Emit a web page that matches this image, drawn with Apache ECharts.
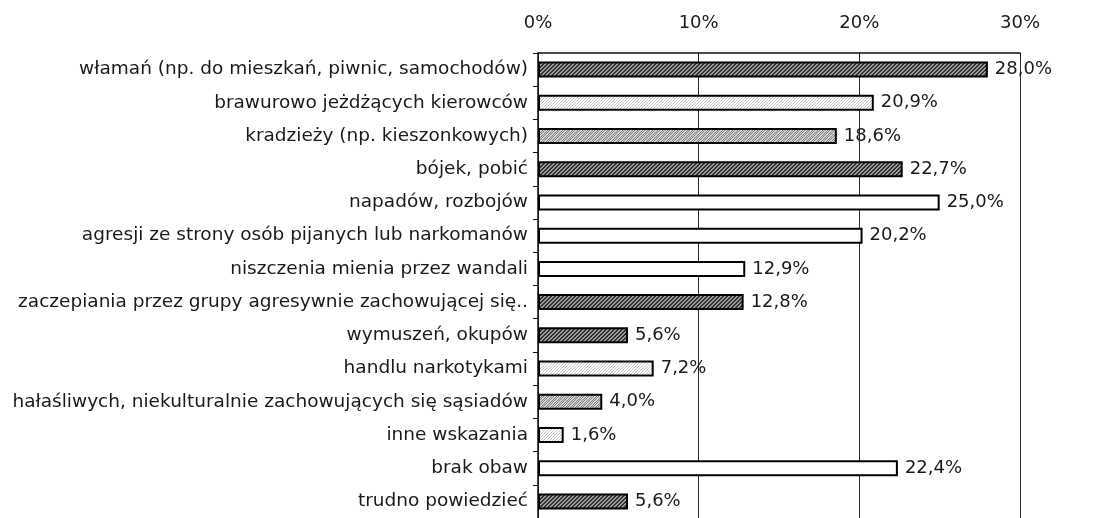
<!DOCTYPE html>
<html>
<head>
<meta charset="utf-8">
<script src="https://cdn.jsdelivr.net/npm/echarts@6/dist/echarts.min.js"></script>
<style>
  html, body { margin: 0; padding: 0; background: #fff; }
  #main { width: 1113px; height: 518px; }
</style>
</head>
<body>
<div id="main"></div>
<script>
var categories = [
    'włamań (np. do mieszkań, piwnic, samochodów)',
    'brawurowo jeżdżących kierowców',
    'kradzieży (np. kieszonkowych)',
    'bójek, pobić',
    'napadów, rozbojów',
    'agresji ze strony osób pijanych lub narkomanów',
    'niszczenia mienia przez wandali',
    'zaczepiania przez grupy agresywnie zachowującej się..',
    'wymuszeń, okupów',
    'handlu narkotykami',
    'hałaśliwych, niekulturalnie zachowujących się sąsiadów',
    'inne wskazania',
    'brak obaw',
    'trudno powiedzieć'
];
var values = [28.0, 20.9, 18.6, 22.7, 25.0, 20.2, 12.9, 12.8, 5.6, 7.2, 4.0, 1.6, 22.4, 5.6];
var tickValues = [0, 10, 20, 30];

// wypelnienie slupkow (styl, nie dane)
var barFill = ['dark', 'light', 'medium', 'dark', 'white', 'white', 'white',
    'dark', 'dark', 'light', 'medium', 'light', 'white', 'dark'];

function makePattern(bg, fg, step) {
    var c = document.createElement('canvas');
    c.width = step; c.height = step;
    var ctx = c.getContext('2d');
    ctx.fillStyle = bg;
    ctx.fillRect(0, 0, step, step);
    ctx.fillStyle = fg;
    for (var i = 0; i < step; i++) {
        ctx.fillRect(i, step - 1 - i, 1, 1);      // ukosna kreska
        ctx.fillRect((i + 2) % step, (step - 1 - i + 1) % step, 1, 1);
    }
    return {image: c, repeat: 'repeat'};
}

var fills = {
    dark: makePattern('#9c9c9c', '#303030', 4),
    medium: makePattern('#d4d4d4', '#808080', 5),
    light: makePattern('#ffffff', '#c4c4c4', 6),
    white: '#ffffff'
};

var barData = values.map(function (v, i) {
    return {value: v, itemStyle: {color: fills[barFill[i]]}};
});

var myChart = echarts.init(document.getElementById('main'));
var option = {
    animation: false,
    backgroundColor: '#fff',
    textStyle: {fontFamily: 'DejaVu Sans'},
    grid: {left: 538, top: 53, width: 482, height: 470},
    xAxis: {
        type: 'value',
        position: 'top',
        min: tickValues[0],
        max: tickValues[tickValues.length - 1],
        interval: 10,
        axisLine: {show: true, lineStyle: {color: '#111', width: 1.5}},
        axisTick: {show: true, inside: true, length: 4, lineStyle: {color: '#111'}},
        axisLabel: {
            margin: 21,
            fontSize: 18,
            color: '#1a1a1a',
            formatter: '{value}%'
        },
        splitLine: {show: true, lineStyle: {color: '#2a2a2a', width: 1}}
    },
    yAxis: {
        type: 'category',
        inverse: true,
        data: categories,
        axisLine: {show: true, lineStyle: {color: '#111', width: 1.5}},
        axisTick: {show: true, length: 5, lineStyle: {color: '#111'}},
        axisLabel: {margin: 10, fontSize: 18.5, color: '#1a1a1a'}
    },
    series: [{
        type: 'bar',
        data: barData,
        barWidth: 16,
        itemStyle: {borderColor: '#000', borderWidth: 2},
        label: {
            show: true,
            position: 'right',
            distance: 7,
            fontSize: 18,
            color: '#1a1a1a',
            formatter: function (p) {
                return p.value.toFixed(1).replace('.', ',') + '%';
            }
        }
    }]
};
myChart.setOption(option);
</script>
</body>
</html>
